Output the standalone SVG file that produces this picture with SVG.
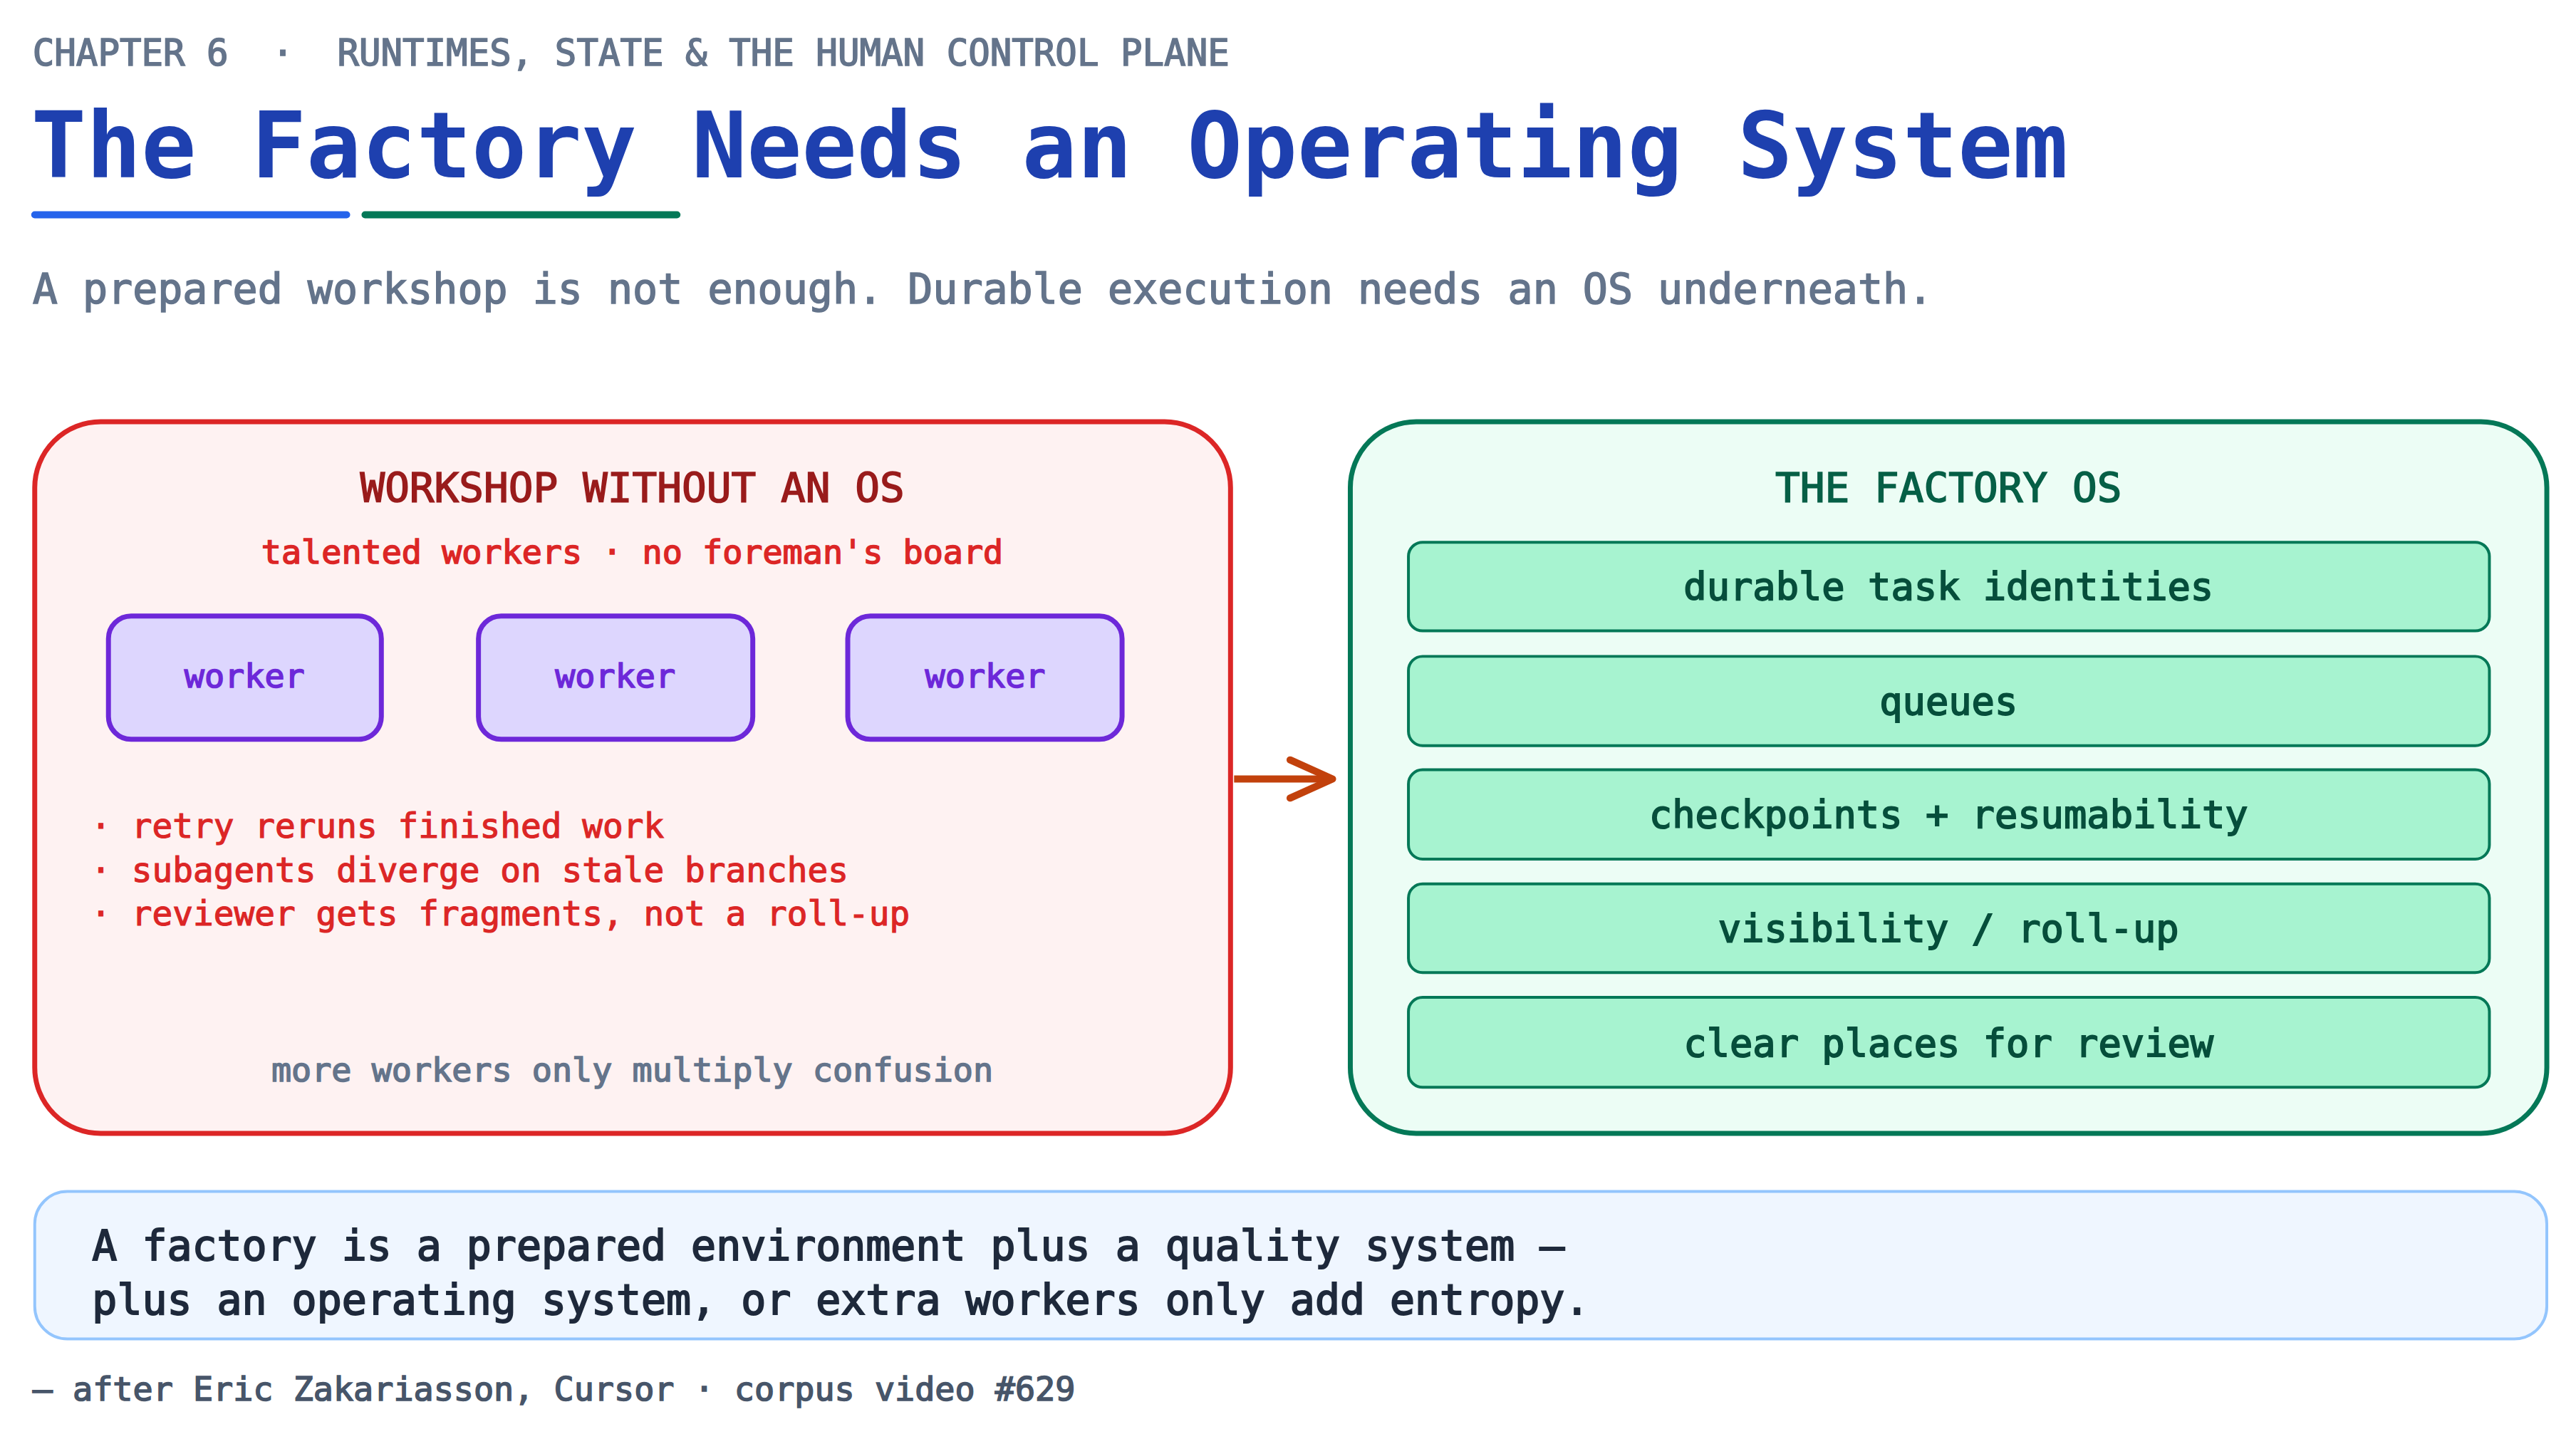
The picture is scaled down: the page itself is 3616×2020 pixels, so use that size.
<svg xmlns="http://www.w3.org/2000/svg" width="3616" height="2020" viewBox="0 0 3616 2020">
<style>
text{font-family:"DejaVu Sans Mono","Liberation Mono",monospace}
.med{stroke-width:1.6px}
.worker rect{fill:#ddd6fe;stroke:#6d28d9;stroke-width:7}
.worker text{fill:#6d28d9;stroke:#6d28d9;stroke-width:1.6px;font-size:47px;text-anchor:middle}
.item rect{fill:#a7f3d0;stroke:#047857;stroke-width:4}
.item text{fill:#064e3b;stroke:#064e3b;stroke-width:1.8px;font-size:54px;text-anchor:middle}
.bul{fill:#dc2626;stroke:#dc2626;stroke-width:1.2px;font-size:48px}
</style>
<rect width="3616" height="2020" fill="#ffffff"/>
<g transform="scale(0.995)">
<g id="header">
<text x="46" y="92" font-size="51" fill="#64748b" stroke="#64748b" class="med" xml:space="preserve">CHAPTER 6  ·  RUNTIMES, STATE &amp; THE HUMAN CONTROL PLANE</text>
<text x="44" y="250" font-size="129" fill="#1e40af" font-weight="bold">The Factory Needs an Operating System</text>
<rect x="44" y="298" width="450" height="10" rx="5" fill="#2563eb"/>
<rect x="510" y="298" width="450" height="10" rx="5" fill="#047857"/>
<text x="46" y="428" font-size="58.6" fill="#64748b" stroke="#64748b" class="med">A prepared workshop is not enough. Durable execution needs an OS underneath.</text>
</g>
<g id="left-panel">
<rect x="49" y="595" width="1687" height="1004" rx="93" fill="#fef2f2" stroke="#dc2626" stroke-width="7"/>
<text x="892" y="709" font-size="58" fill="#991b1b" stroke="#991b1b" class="med" text-anchor="middle">WORKSHOP WITHOUT AN OS</text>
<text x="892" y="795" font-size="47" fill="#dc2626" stroke="#dc2626" class="med" text-anchor="middle">talented workers · no foreman's board</text>
<text class="bul" x="128" y="1182">· retry reruns finished work</text>
<text class="bul" x="128" y="1244">· subagents diverge on stale branches</text>
<text class="bul" x="128" y="1306">· reviewer gets fragments, not a roll-up</text>
<text x="892" y="1526" font-size="47" fill="#64748b" stroke="#64748b" class="med" text-anchor="middle">more workers only multiply confusion</text>
</g>
<g id="worker1" class="worker"><rect x="153" y="869" width="385" height="174" rx="32"/><text x="345" y="970">worker</text></g>
<g id="worker2" class="worker"><rect x="675" y="869" width="387" height="174" rx="32"/><text x="868" y="970">worker</text></g>
<g id="worker3" class="worker"><rect x="1196" y="869" width="387" height="174" rx="32"/><text x="1390" y="970">worker</text></g>
<g id="right-panel">
<rect x="1905" y="595" width="1688" height="1004" rx="93" fill="#ecfdf5" stroke="#047857" stroke-width="7"/>
<text x="2749" y="709" font-size="58" fill="#065f46" stroke="#065f46" class="med" text-anchor="middle">THE FACTORY OS</text>
</g>
<g id="item1" class="item"><rect x="1987" y="765" width="1525" height="125" rx="20"/><text x="2749" y="846">durable task identities</text></g>
<g id="item2" class="item"><rect x="1987" y="926" width="1525" height="126" rx="20"/><text x="2749" y="1008">queues</text></g>
<g id="item3" class="item"><rect x="1987" y="1086" width="1525" height="126" rx="20"/><text x="2749" y="1168">checkpoints + resumability</text></g>
<g id="item4" class="item"><rect x="1987" y="1247" width="1525" height="125" rx="20"/><text x="2749" y="1329">visibility / roll-up</text></g>
<g id="item5" class="item"><rect x="1987" y="1407" width="1525" height="127" rx="20"/><text x="2749" y="1490">clear places for review</text></g>
<g id="connectors">
<line x1="1741" y1="1099" x2="1876" y2="1099" stroke="#c2410c" stroke-width="10"/>
<path d="M1820,1072 L1880,1099 L1820,1126" fill="none" stroke="#c2410c" stroke-width="10" stroke-linecap="round" stroke-linejoin="round"/>
</g>
<g id="quote">
<rect x="49" y="1681" width="3544" height="208" rx="46" fill="#eff6ff" stroke="#93c5fd" stroke-width="4"/>
<text x="130" y="1778" font-size="58.5" fill="#1e293b" stroke="#1e293b" stroke-width="2">A factory is a prepared environment plus a quality system —</text>
<text x="130" y="1854" font-size="58.5" fill="#1e293b" stroke="#1e293b" stroke-width="2">plus an operating system, or extra workers only add entropy.</text>
</g>
<text x="46" y="1976" font-size="47" fill="#475569" stroke="#475569" class="med">— after Eric Zakariasson, Cursor · corpus video #629</text>
</g>
</svg>
